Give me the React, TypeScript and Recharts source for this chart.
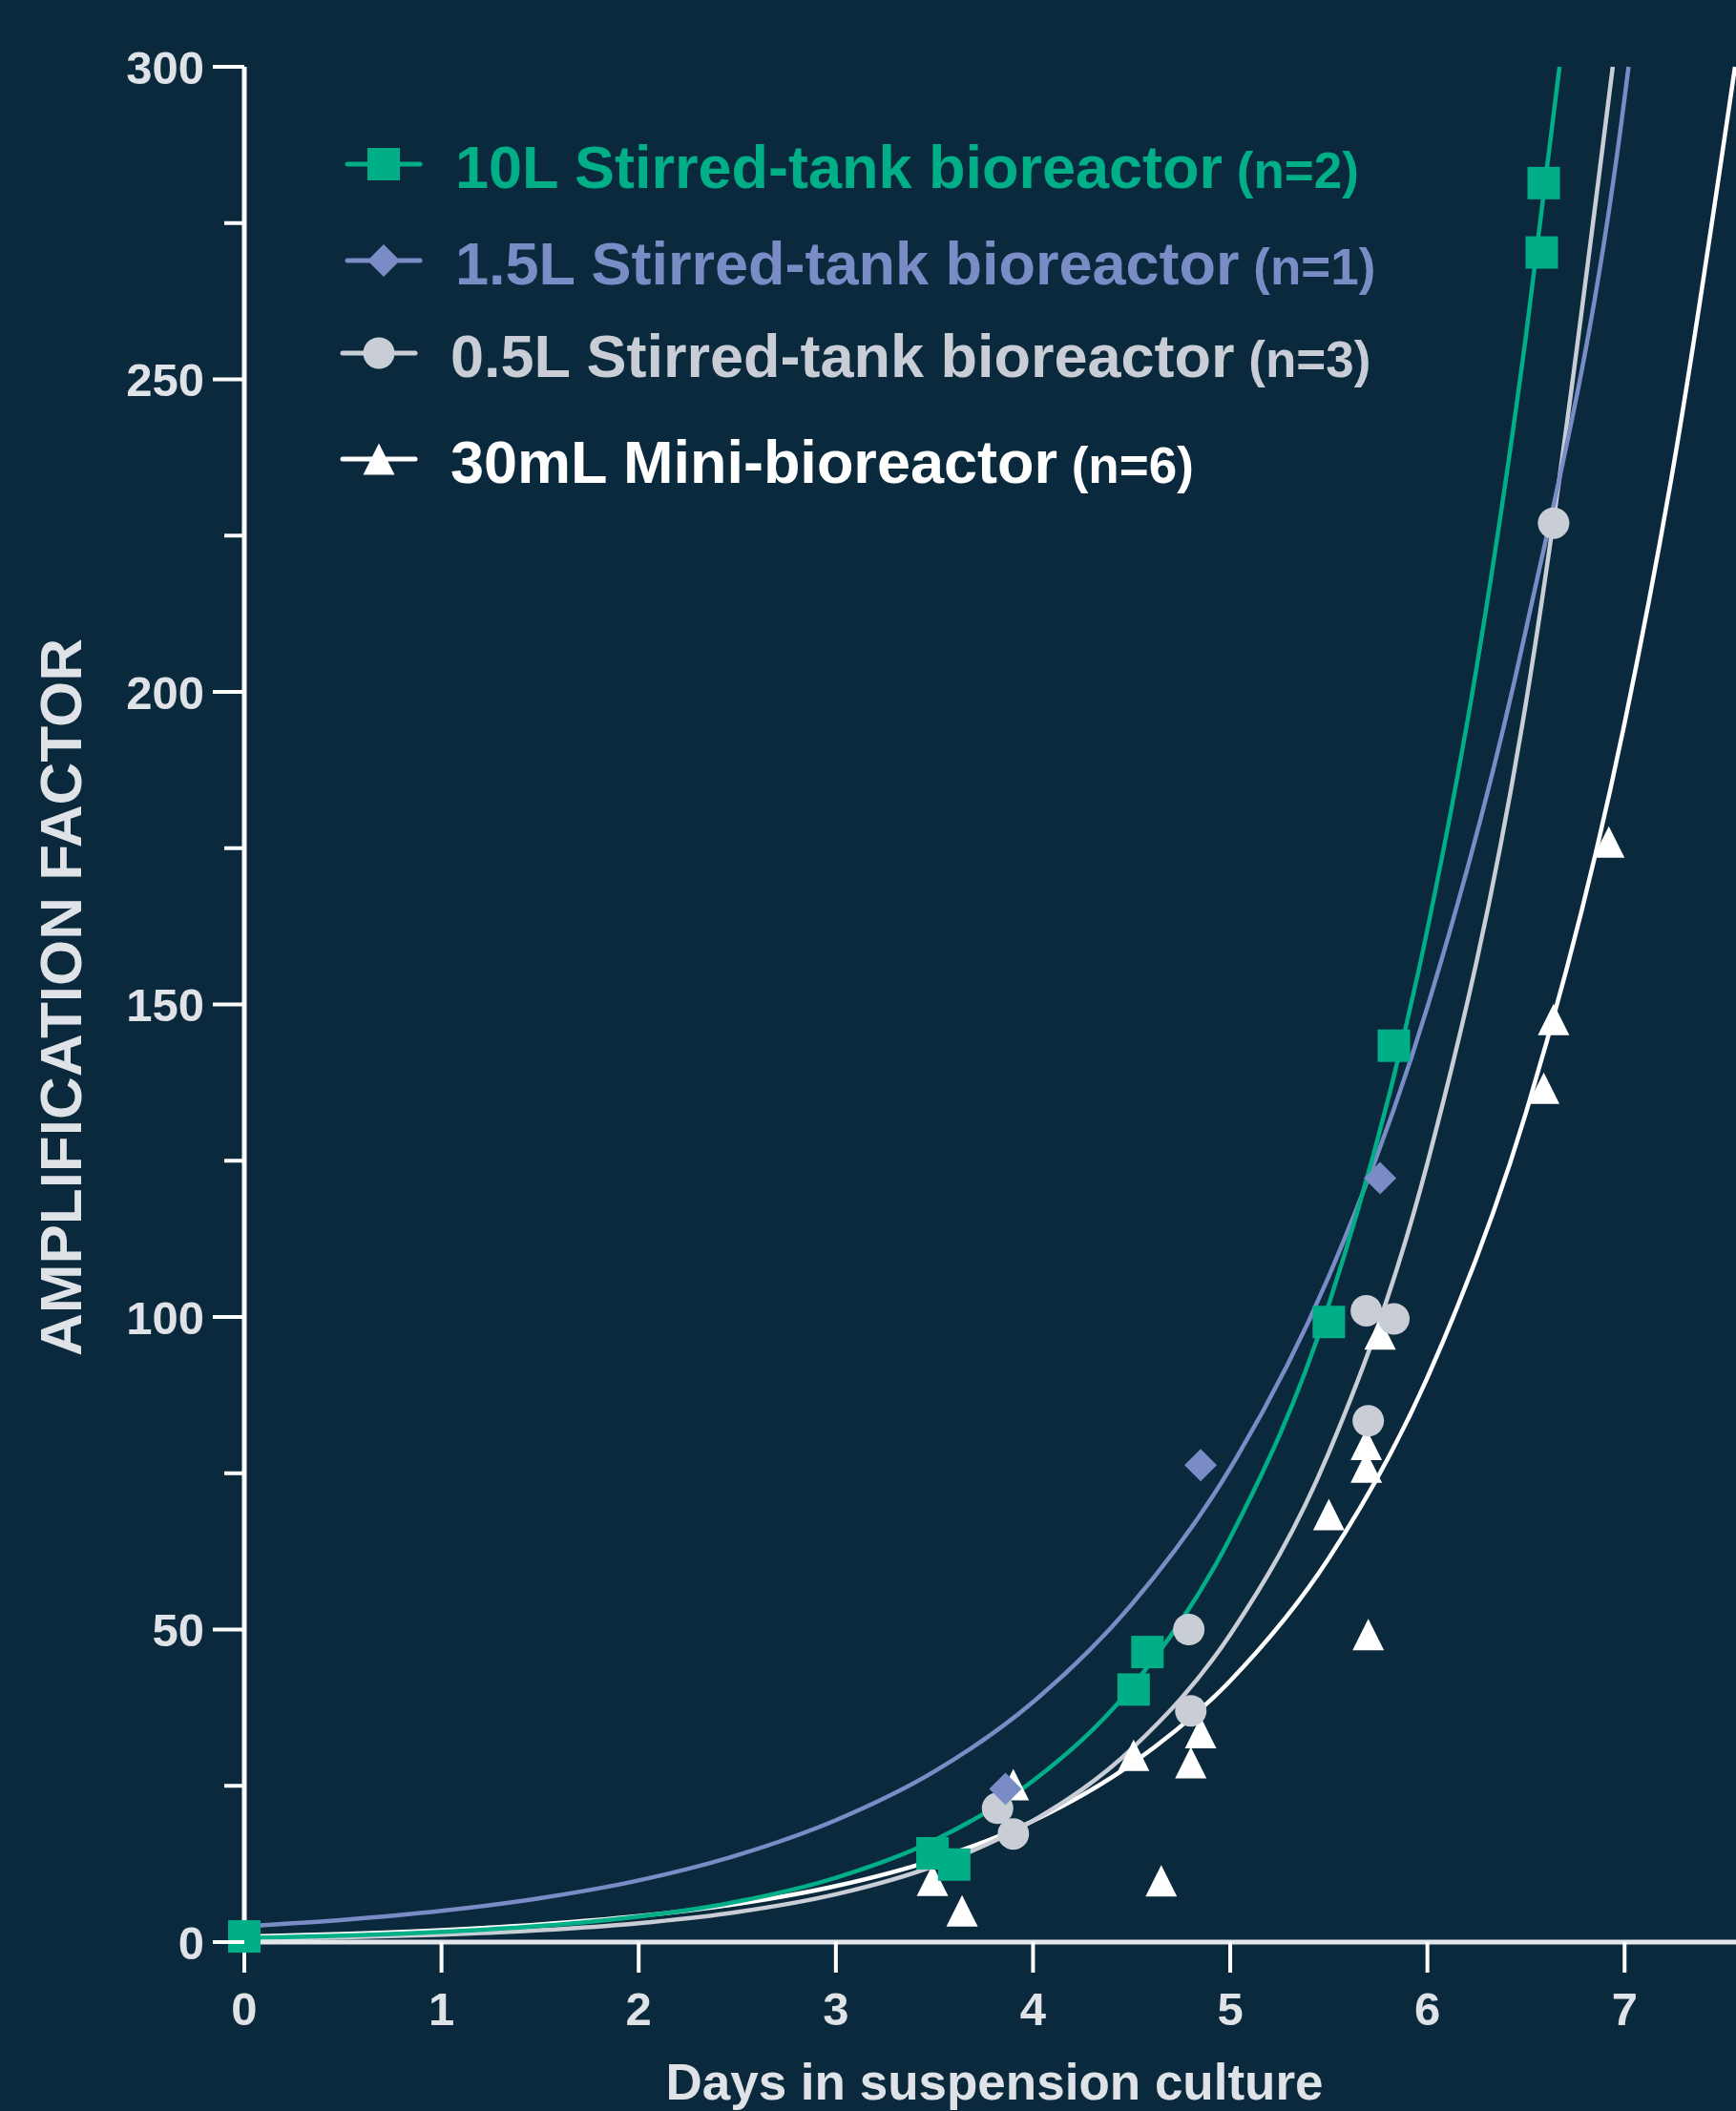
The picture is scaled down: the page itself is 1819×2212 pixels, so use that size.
import { ComposedChart, Legend, Line, Scatter, XAxis, YAxis } from "recharts";

const FONT = "'Liberation Sans', Arial, Helvetica, sans-serif";
const BG = "#0a293c";
const GREEN = "#00ae88";
const BLUE = "#7a8cc6";
const GREY = "#c9ced6";
const WHITE = "#ffffff";
const TEXT = "#dfe2e7";

// measured points (days, amplification factor)
const tank10Days = [0, 3.49, 3.6, 4.51, 4.58, 5.5, 5.83, 6.58, 6.59];
const tank10Amp = [0.9, 14.2, 12.4, 40.4, 46.4, 99.2, 143.4, 270.3, 281.4];

const tank15Days = [0, 3.86, 4.85, 5.76];
const tank15Amp = [1, 24.5, 76.3, 122.2];

const tank05Days = [0, 3.82, 3.9, 4.79, 4.8, 5.69, 5.7, 5.83, 6.64];
const tank05Amp = [1, 21.4, 17.3, 50, 37, 101, 83.4, 99.7, 227];

const miniDays = [0, 3.49, 3.64, 3.9, 4.51, 4.65, 4.8, 4.85, 5.5, 5.69, 5.69, 5.7, 5.76, 6.59, 6.64, 6.92];
const miniAmp = [1, 9.9, 5.0, 25.2, 29.9, 9.8, 28.7, 33.5, 68.4, 79.6, 76, 49.2, 97.3, 136.6, 147.6, 176];

// fitted curves
const tank10CurveDays = [0, 0.5, 1, 1.5, 2, 2.5, 3, 3.5, 4, 4.5, 5, 5.5, 6, 6.25, 6.5, 6.67];
const tank10CurveAmp = [0.65, 1.03, 1.63, 2.58, 4.09, 6.48, 10.3, 16.3, 25.8, 40.8, 64.7, 102, 162, 204, 257, 300];

const tank15CurveDays = [0, 0.5, 1, 1.5, 2, 2.5, 3, 3.5, 4, 4.5, 5, 5.5, 6, 6.5, 7, 7.02];
const tank15CurveAmp = [2.53, 3.55, 4.99, 7.02, 9.86, 13.9, 19.5, 27.3, 38.4, 54.0, 75.8, 106.5, 149.6, 210, 295, 300];

const tank05CurveDays = [0, 0.5, 1, 1.5, 2, 2.5, 3, 3.5, 4, 4.5, 5, 5.5, 6, 6.5, 6.94];
const tank05CurveAmp = [0.47, 0.75, 1.19, 1.9, 3.02, 4.81, 7.65, 12.2, 19.4, 30.9, 49.2, 78.3, 124.6, 198.3, 300];

const miniCurveDays = [0, 0.5, 1, 1.5, 2, 2.5, 3, 3.5, 4, 4.5, 5, 5.5, 6, 6.5, 7, 7.25, 7.56];
const miniCurveAmp = [0.89, 1.31, 1.92, 2.83, 4.15, 6.1, 8.96, 13.2, 19.4, 28.5, 41.8, 61.4, 90.3, 132.7, 195, 236.5, 300];

const xTicks = [0, 1, 2, 3, 4, 5, 6, 7];
const yTicks = [0, 25, 50, 75, 100, 125, 150, 175, 200, 225, 250, 275, 300];

const seriesNames = [
  "10L Stirred-tank bioreactor",
  "1.5L Stirred-tank bioreactor",
  "0.5L Stirred-tank bioreactor",
  "30mL Mini-bioreactor",
];
const seriesN = ["(n=2)", "(n=1)", "(n=3)", "(n=6)"];

const zip = (xs: number[], ys: number[]) => xs.map((x, i) => ({ x, y: ys[i] }));

type Kind = "square" | "diamond" | "circle" | "triangle";

function Marker({ kind, cx, cy, color }: { kind: Kind; cx: number; cy: number; color: string }) {
  if (kind === "square") return <rect x={cx - 17} y={cy - 17} width={34} height={34} fill={color} />;
  if (kind === "diamond")
    return <polygon points={`${cx},${cy - 17} ${cx + 17},${cy} ${cx},${cy + 17} ${cx - 17},${cy}`} fill={color} />;
  if (kind === "circle") return <circle cx={cx} cy={cy} r={16.5} fill={color} />;
  return <polygon points={`${cx},${cy - 16.5} ${cx + 16.5},${cy + 16.5} ${cx - 16.5},${cy + 16.5}`} fill={color} />;
}

const colors = [GREEN, BLUE, GREY, WHITE];
const kinds: Kind[] = ["square", "diamond", "circle", "triangle"];

// legend rows: marker centre / text origin / baseline
const legendRows = [
  { cx: 402, cy: 172, tx: 477, base: 197 },
  { cx: 402, cy: 273, tx: 477, base: 298 },
  { cx: 397, cy: 370, tx: 472, base: 395 },
  { cx: 397, cy: 481, tx: 472, base: 506 },
];

function LegendBox() {
  return (
    <svg width={1500} height={560} style={{ display: "block" }}>
      {legendRows.map((r, i) => (
        <g key={i}>
          <line x1={r.cx - 38} x2={r.cx + 38} y1={r.cy} y2={r.cy} stroke={colors[i]} strokeWidth={5} strokeLinecap="round" />
          <Marker kind={kinds[i]} cx={r.cx} cy={r.cy} color={colors[i]} />
          <text x={r.tx} y={r.base} fill={colors[i]} fontFamily={FONT} fontWeight={700} fontSize={63}>
            {seriesNames[i]}
            <tspan fontSize={53}>{" " + seriesN[i]}</tspan>
          </text>
        </g>
      ))}
    </svg>
  );
}

function YTick(props: any) {
  const { x, y, payload } = props;
  const major = payload.value % 50 === 0;
  return (
    <g>
      <line x1={x - (major ? 33 : 21)} x2={x} y1={y} y2={y} stroke="#fff" strokeWidth={4} />
      {major && (
        <text x={x - 42} y={y + 17.5} textAnchor="end" fill={TEXT} fontFamily={FONT} fontWeight={700} fontSize={49}>
          {payload.value}
        </text>
      )}
    </g>
  );
}

export default function App() {
  const curves = [
    zip(miniCurveDays, miniCurveAmp),
    zip(tank05CurveDays, tank05CurveAmp),
    zip(tank15CurveDays, tank15CurveAmp),
    zip(tank10CurveDays, tank10CurveAmp),
  ];
  const curveColors = [WHITE, GREY, BLUE, GREEN];
  const points = [
    { data: zip(miniDays, miniAmp), kind: "triangle" as Kind, color: WHITE },
    { data: zip(tank05Days, tank05Amp), kind: "circle" as Kind, color: GREY },
    { data: zip(tank15Days, tank15Amp), kind: "diamond" as Kind, color: BLUE },
    { data: zip(tank10Days, tank10Amp), kind: "square" as Kind, color: GREEN },
  ];

  return (
    <div style={{ width: 1819, height: 2212, background: BG, position: "relative" }}>
      <style>{"body{margin:0;background:" + BG + "}"}</style>
      <ComposedChart width={1819} height={2212} margin={{ top: 70, right: 0, bottom: 0, left: 0 }}>
        <XAxis
          dataKey="x"
          type="number"
          domain={[0, 7.565]}
          ticks={xTicks}
          height={177}
          axisLine={{ stroke: "#e4e8ec", strokeWidth: 5 }}
          tickLine={{ stroke: "#fff", strokeWidth: 4 }}
          tickSize={32}
          tickMargin={20}
          tick={{ fill: TEXT, fontSize: 49, fontWeight: 700, fontFamily: FONT }}
          label={() => (
            <text x={1042} y={2200} textAnchor="middle" fill={TEXT} fontFamily={FONT} fontWeight={700} fontSize={53}>
              Days in suspension culture
            </text>
          )}
        />
        <YAxis
          dataKey="y"
          type="number"
          domain={[0, 300]}
          ticks={yTicks}
          interval={0}
          width={256}
          axisLine={{ stroke: "#fff", strokeWidth: 5 }}
          tickLine={false}
          tickSize={0}
          tickMargin={0}
          tick={<YTick />}
          label={() => (
            <text
              x={85}
              y={1045}
              transform="rotate(-90 85 1045)"
              textAnchor="middle"
              fill={TEXT}
              fontFamily={FONT}
              fontWeight={700}
              fontSize={62}
            >
              AMPLIFICATION FACTOR
            </text>
          )}
        />
        <Legend
          layout="horizontal"
          verticalAlign="middle"
          align="center"
          wrapperStyle={{ left: 0, top: 0, width: 1500, height: 560 }}
          content={() => <LegendBox />}
        />
        {curves.map((d, i) => (
          <Line
            key={"c" + i}
            data={d}
            dataKey="y"
            type="monotone"
            stroke={curveColors[i]}
            strokeWidth={4.5}
            dot={false}
            activeDot={false}
            isAnimationActive={false}
          />
        ))}
        {points.map((s, i) => (
          <Scatter
            key={"s" + i}
            data={s.data}
            dataKey="y"
            isAnimationActive={false}
            shape={(p: any) => <Marker kind={s.kind} cx={p.cx} cy={p.cy} color={s.color} />}
          />
        ))}
      </ComposedChart>
    </div>
  );
}
